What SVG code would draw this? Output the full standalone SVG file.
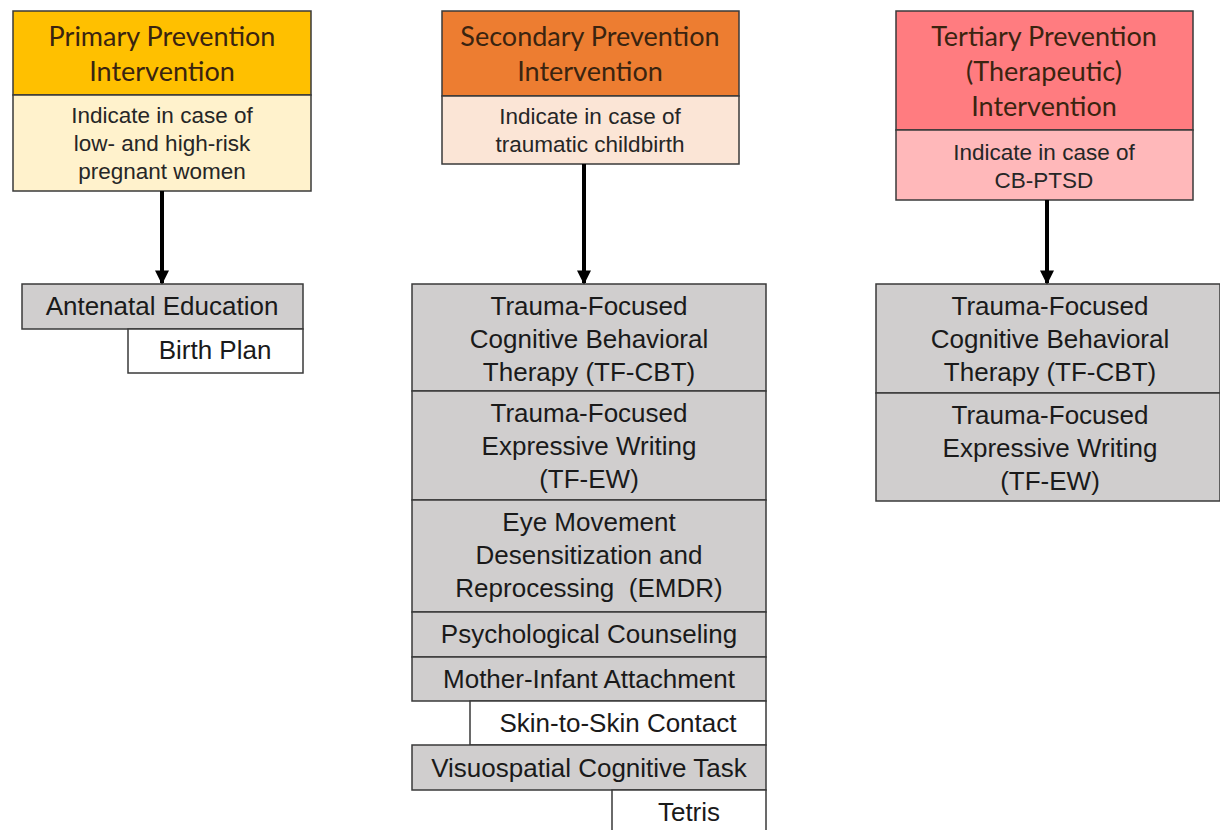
<svg xmlns="http://www.w3.org/2000/svg" width="1220" height="830" viewBox="0 0 1220 830">
<style>
rect{stroke:#3a3a3a;stroke-width:1.5}
.hd{font-family:Lato,"Open Sans",sans-serif;font-size:27px;fill:#3a2410;text-anchor:middle}
.bd{font-family:"Liberation Sans",Arial,sans-serif;font-size:22.5px;fill:#262626;text-anchor:middle}
.bx{font-family:"Liberation Sans",Arial,sans-serif;font-size:26px;fill:#1a1a1a;text-anchor:middle}
.g{fill:#d0cece}
.w{fill:#ffffff}
.c{stroke:#000;stroke-width:4;fill:none;marker-end:url(#ah)}
</style>
<defs>
<marker id="ah" viewBox="0 0 10 10" refX="9" refY="5" markerWidth="4" markerHeight="3.5" markerUnits="strokeWidth" orient="auto">
<path d="M0,0L10,5L0,10z" fill="#000"/>
</marker>
</defs>
<rect x="0" y="0" width="1220" height="830" fill="#fff" style="stroke:none"/>
<g id="primary">
<rect x="13" y="11" width="298" height="84" fill="#ffc000"/>
<text class="hd" x="162" y="46">Primary Prevention</text>
<text class="hd" x="162" y="81">Intervention</text>
<rect x="13" y="95" width="298" height="96" fill="#fff2cc"/>
<text class="bd" x="162" y="123">Indicate in case of</text>
<text class="bd" x="162" y="151">low- and high-risk</text>
<text class="bd" x="162" y="179">pregnant women</text>
</g>
<g id="antenatal">
<rect class="g" x="22" y="284" width="281" height="45"/>
<text class="bx" x="162" y="315">Antenatal Education</text>
</g>
<g id="birthplan">
<rect class="w" x="128" y="329" width="175" height="44"/>
<text class="bx" x="215" y="359">Birth Plan</text>
</g>
<g id="secondary">
<rect x="442" y="11" width="297" height="85" fill="#ed7d31"/>
<text class="hd" x="590" y="46">Secondary Prevention</text>
<text class="hd" x="590" y="81">Intervention</text>
<rect x="442" y="96" width="297" height="68" fill="#fbe5d6"/>
<text class="bd" x="590" y="124">Indicate in case of</text>
<text class="bd" x="590" y="152">traumatic childbirth</text>
</g>
<g id="sec-tfcbt">
<rect class="g" x="412" y="284" width="354" height="107"/>
<text class="bx" x="589" y="315">Trauma-Focused</text>
<text class="bx" x="589" y="348">Cognitive Behavioral</text>
<text class="bx" x="589" y="381">Therapy (TF-CBT)</text>
</g>
<g id="sec-tfew">
<rect class="g" x="412" y="391" width="354" height="109"/>
<text class="bx" x="589" y="422">Trauma-Focused</text>
<text class="bx" x="589" y="455">Expressive Writing</text>
<text class="bx" x="589" y="488">(TF-EW)</text>
</g>
<g id="sec-emdr">
<rect class="g" x="412" y="500" width="354" height="112"/>
<text class="bx" x="589" y="531">Eye Movement</text>
<text class="bx" x="589" y="564">Desensitization and</text>
<text class="bx" x="589" y="597" xml:space="preserve">Reprocessing  (EMDR)</text>
</g>
<g id="sec-counsel">
<rect class="g" x="412" y="612" width="354" height="45"/>
<text class="bx" x="589" y="643">Psychological Counseling</text>
</g>
<g id="sec-attach">
<rect class="g" x="412" y="657" width="354" height="44"/>
<text class="bx" x="589" y="688">Mother-Infant Attachment</text>
</g>
<g id="sec-skin">
<rect class="w" x="470" y="701" width="296" height="44"/>
<text class="bx" x="618" y="732">Skin-to-Skin Contact</text>
</g>
<g id="sec-visuo">
<rect class="g" x="412" y="745" width="354" height="45"/>
<text class="bx" x="589" y="777">Visuospatial Cognitive Task</text>
</g>
<g id="sec-tetris">
<rect class="w" x="612" y="790" width="154" height="45"/>
<text class="bx" x="689" y="821">Tetris</text>
</g>
<g id="tertiary">
<rect x="896" y="11" width="297" height="119" fill="#ff7c80"/>
<text class="hd" x="1044" y="46">Tertiary Prevention</text>
<text class="hd" x="1044" y="81">(Therapeutic)</text>
<text class="hd" x="1044" y="116">Intervention</text>
<rect x="896" y="130" width="297" height="70" fill="#ffb8ba"/>
<text class="bd" x="1044" y="160">Indicate in case of</text>
<text class="bd" x="1044" y="188">CB-PTSD</text>
</g>
<g id="ter-tfcbt">
<rect class="g" x="876" y="284" width="344" height="109"/>
<text class="bx" x="1050" y="315">Trauma-Focused</text>
<text class="bx" x="1050" y="348">Cognitive Behavioral</text>
<text class="bx" x="1050" y="381">Therapy (TF-CBT)</text>
</g>
<g id="ter-tfew">
<rect class="g" x="876" y="393" width="344" height="108"/>
<text class="bx" x="1050" y="424">Trauma-Focused</text>
<text class="bx" x="1050" y="457">Expressive Writing</text>
<text class="bx" x="1050" y="490">(TF-EW)</text>
</g>
<g id="connectors">
<line class="c" x1="162" y1="191" x2="162" y2="283"/>
<line class="c" x1="584" y1="164" x2="584" y2="283"/>
<line class="c" x1="1047" y1="200" x2="1047" y2="283"/>
</g>
</svg>
